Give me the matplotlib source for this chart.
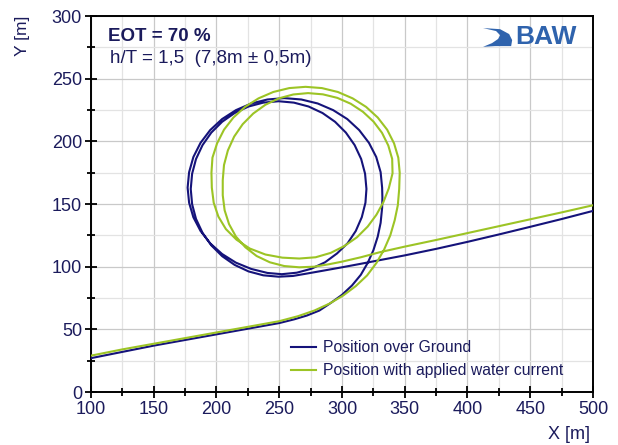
import numpy as np
import matplotlib.pyplot as plt
from matplotlib.ticker import MultipleLocator
from matplotlib.patches import Polygon

plt.rcParams['font.family'] = ['Liberation Sans', 'DejaVu Sans']

NAVY = '#15137a'
GREEN = '#9cc425'
TXT = '#1b1b5c'

# ship track, position over ground
ground_x = [100, 125, 150, 175, 200, 225, 250, 262, 272, 282, 291, 300, 308, 315, 320.5,
            325, 328.5, 330.8, 332, 332.2,
            # first loop
            332, 330.8, 327.3, 321.5, 313.7, 304.2, 293, 280.7, 267.6, 254,
            240.6, 227.7, 215.5, 204.5, 195, 187.3, 181.6, 178.2, 177,
            178.2, 181.6, 187.3, 195, 204.5, 215.5, 227.7, 240.6, 252,
            264, 275.5, 286.5, 296, 304.5, 311, 315.8, 318.7,
            # second loop
            319.5, 318.4, 315.3, 310.1, 303.1, 294.5, 284.5, 273.4, 261.7, 249.5,
            237.3, 225.6, 214.5, 204.5, 195.9, 188.9, 183.7, 180.6, 179.5,
            180.6, 183.7, 188.9, 195.9, 204.5, 214.5, 225.6, 237.3, 249.5,
            # exit
            261, 272, 285, 300, 315, 330, 350, 375, 400, 425, 450, 475, 500]
ground_y = [27, 32, 37, 41.5, 46, 50.5, 55, 58, 61, 65, 71, 77.5, 85, 93.5, 103,
            113, 124, 135, 147, 155,
            163, 175.4, 187.5, 198.8, 209, 217.8, 224.9, 230.2, 233.4, 234.5,
            233.4, 230.2, 224.9, 217.8, 209, 198.8, 187.5, 175.4, 163,
            151, 139.4, 128.5, 118.6, 110.1, 103.2, 98.2, 95, 94,
            95.2, 98.3, 103.5, 110.5, 118.7, 128.5, 139.5, 151,
            162, 174.2, 185.9, 197, 207, 215.6, 222.6, 227.8, 230.9, 232,
            230.9, 227.8, 222.6, 215.6, 207, 197, 185.9, 174.2, 162,
            149.8, 138.1, 127, 117, 108.4, 101.4, 96.2, 93.1, 92,
            92.6, 94.5, 96.8, 99.5, 102.3, 105.2, 109, 114.2, 119.8, 125.7, 131.8, 138, 144.5]

# ship track, position with applied water current
water_x = [100, 125, 150, 175, 200, 225, 250, 265, 278, 290, 301, 311, 320, 327.5,
           333.5, 338.5, 342, 344.5, 345.6,
           # first loop
           346, 344.9, 341.5, 336, 328.5, 319.2, 308.5, 296.7, 284, 271,
           258, 245.3, 233.5, 222.8, 213.5, 206, 200.5, 196.8, 196,
           196.3, 197.8, 201.5, 207.5, 216, 226.5, 239, 252.5, 266,
           279, 291, 302, 312, 320.5, 327.5, 333, 337.3, 340.3,
           # second loop
           340, 336.9, 331.9, 325.1, 316.7, 307, 296.3, 284.8, 273,
           261.2, 249.7, 239, 229.3, 220.9, 214.1, 209.1, 206, 205,
           205, 206.5, 210, 215.5, 223, 232, 242.5, 254, 266,
           # exit
           278, 290, 300, 315, 330, 350, 375, 400, 425, 450, 475, 500]
water_y = [29, 34, 38.5, 43, 47.5, 52, 56.5, 60.5, 65, 70.5, 77, 84.5, 93, 103,
           113.5, 125, 137, 149, 162,
           175, 186.9, 198.4, 209.3, 219, 227.5, 234.3, 239.4, 242.5, 243.5,
           242.5, 239.4, 234.3, 227.5, 219, 209.3, 198.4, 187, 175,
           163, 151, 140, 130, 121.5, 114.5, 109.7, 107.2, 106.5,
           107.5, 111, 116.5, 123.5, 132, 141.5, 151.5, 162.5, 174.5,
           186, 196.7, 206.8, 215.8, 223.6, 230, 234.7, 237.5, 238.5,
           237.4, 234.3, 229.2, 222.2, 213.7, 203.8, 192.8, 181.1, 169,
           157, 145, 134, 124, 115.5, 108.5, 103.5, 100.5, 99.5,
           100, 102, 104, 107.5, 111.5, 116, 121.3, 126.8, 132.3, 137.8, 143.3, 149]

fig = plt.figure(figsize=(6.18, 4.45), dpi=100)
ax = fig.add_axes([0.1472, 0.1191, 0.8123, 0.8449])

ax.plot(ground_x, ground_y, color=NAVY, lw=1.5, label='Position over Ground', zorder=3)
ax.plot(water_x, water_y, color=GREEN, lw=1.5, label='Position with applied water current', zorder=3)

ax.set_xlim(100, 500)
ax.set_ylim(0, 300)
ax.xaxis.set_major_locator(MultipleLocator(50))
ax.xaxis.set_minor_locator(MultipleLocator(25))
ax.yaxis.set_major_locator(MultipleLocator(50))
ax.yaxis.set_minor_locator(MultipleLocator(25))
ax.grid(which='major', color='#c9c9c9', lw=0.9)
ax.grid(which='minor', color='#e3e3e3', lw=0.9)
ax.set_axisbelow(True)

ax.tick_params(which='major', direction='inout', length=9, width=1.3, labelsize=13,
               labelcolor=TXT, pad=2)
ax.tick_params(which='minor', direction='inout', length=6, width=1.3)
for s in ax.spines.values():
    s.set_linewidth(1.4)
    s.set_color('black')

fig.text(0.036, 0.965, 'Y [m]', rotation=90, ha='center', va='top', fontsize=12.5, color=TXT)
fig.text(0.955, 0.005, 'X [m]', ha='right', va='bottom', fontsize=13, color=TXT)

ax.text(0.033, 0.945, 'EOT = 70 %', transform=ax.transAxes, fontsize=13.5, fontweight='bold',
        color=TXT, va='center')
ax.text(0.037, 0.886, 'h/T = 1,5  (7,8m \u00b1 0,5m)', transform=ax.transAxes, fontsize=13.5,
        color=TXT, va='center')

# BAW logo
logo_blue = '#2f63ad'
swoosh = Polygon([[0.781, 0.968], [0.815, 0.965], [0.833, 0.952], [0.839, 0.936],
                  [0.837, 0.920], [0.805, 0.920], [0.781, 0.918], [0.799, 0.928],
                  [0.811, 0.939], [0.815, 0.949], [0.807, 0.960]], closed=True,
                 transform=ax.transAxes, color=logo_blue, lw=0)
ax.add_patch(swoosh)
ax.text(0.846, 0.944, 'BAW', transform=ax.transAxes, fontsize=19, fontweight='bold',
        color=logo_blue, va='center', ha='left')

leg = ax.legend(loc='lower left', bbox_to_anchor=(0.385, 0.02), frameon=False, fontsize=11.3,
                handlelength=1.6, handletextpad=0.45, labelspacing=0.5, borderaxespad=0)
for t in leg.get_texts():
    t.set_color(TXT)

fig.savefig('out.png', dpi=100)
